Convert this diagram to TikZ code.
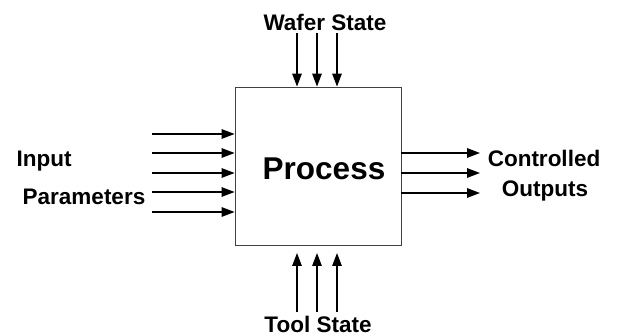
\documentclass[tikz,border=0pt]{standalone}
\usepackage{fontspec}
\setmainfont{Liberation Sans}
\usetikzlibrary{arrows.meta}
\begin{document}
\begin{tikzpicture}[x=1pt,y=-1pt,
  lbl/.style={font=\fontsize{22.5}{26}\selectfont\bfseries, inner sep=0pt, anchor=base},
  flow/.style={line width=1.4pt, -{Triangle[length=13pt,width=9.5pt]}},
  procbox/.style={draw=black!75, line width=0.8pt, minimum width=166pt, minimum height=158pt, inner sep=0pt}]
\useasboundingbox (0,0) rectangle (620,336);
\node[procbox] (box) at (318,166) {};
\node[font=\fontsize{31.5}{36}\selectfont\bfseries, inner sep=0pt, anchor=base] (proc) at (324,180) {Process};
% labels
\node[lbl] (wafer) at (325,31) {Wafer State};
\node[lbl] (tool) at (318,332) {Tool State};
\node[lbl] (input) at (44,167) {Input};
\node[lbl] (param) at (84,205) {Parameters};
\node[lbl] (ctrl) at (544,167) {Controlled};
\node[lbl] (outp) at (545,197) {Outputs};
% left inputs
\foreach \y [count=\i] in {134,153,173,192,212} {
  \coordinate (in\i) at (152,\y);
  \draw[flow] (in\i) -- (in\i -| box.west);
}
% right outputs
\foreach \y [count=\i] in {153,173,193} {
  \coordinate (out\i) at (480,\y);
  \draw[flow] (out\i -| box.east) -- (out\i);
}
% top wafer state
\foreach \x [count=\i] in {297,317,337} {
  \coordinate (ws\i) at (\x,33);
  \draw[flow] (ws\i) -- (ws\i |- box.north);
}
% bottom tool state
\foreach \x [count=\i] in {297,317,337} {
  \coordinate (ts\i) at (\x,312);
  \coordinate (te\i) at (\x,253);
  \draw[flow] (ts\i) -- (te\i);
}
\end{tikzpicture}
\end{document}
